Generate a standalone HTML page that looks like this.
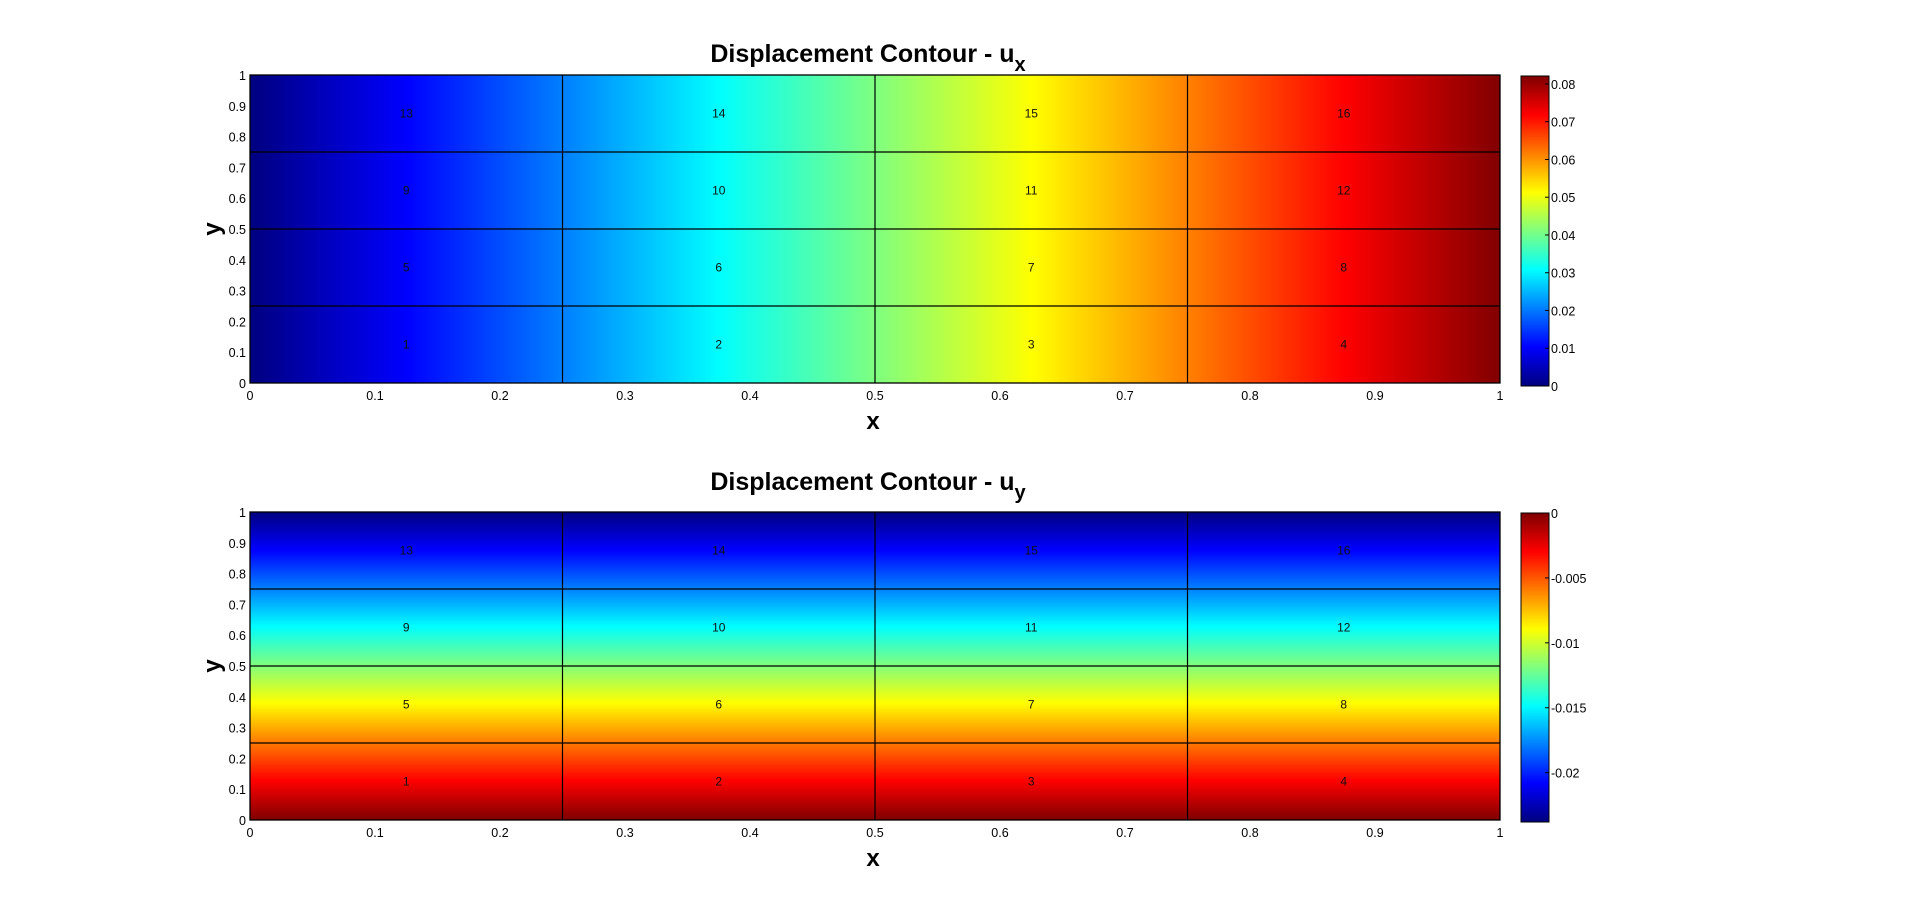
<!DOCTYPE html>
<html><head><meta charset="utf-8">
<style>
body{margin:0;background:#fff;width:1920px;height:921px;overflow:hidden;font-family:"Liberation Sans",sans-serif;}
svg{position:absolute;left:0;top:0}
canvas{position:absolute}
</style></head>
<body>
<canvas id="c1" style="left:250px;top:75px" width="1250" height="308"></canvas>
<canvas id="c2" style="left:250px;top:512px" width="1250" height="308"></canvas>
<canvas id="cb1" style="left:1521px;top:76px" width="28" height="310"></canvas>
<canvas id="cb2" style="left:1521px;top:513px" width="28" height="309"></canvas>
<svg id="s" width="1920" height="921"></svg>
<script>
const uxRowValues = [0, 0.0205, 0.041, 0.0615, 0.082];
const uyColValues = [0, -0.0058, -0.0118, -0.0178, -0.0238];
const axisTicks = [0,0.1,0.2,0.3,0.4,0.5,0.6,0.7,0.8,0.9,1];
const axisTickLabels = ["0","0.1","0.2","0.3","0.4","0.5","0.6","0.7","0.8","0.9","1"];
const cb1Ticks = [0,0.01,0.02,0.03,0.04,0.05,0.06,0.07,0.08];
const cb1Labels = ["0","0.01","0.02","0.03","0.04","0.05","0.06","0.07","0.08"];
const cb2Ticks = [0,-0.005,-0.01,-0.015,-0.02];
const cb2Labels = ["0","-0.005","-0.01","-0.015","-0.02"];
const elementIds = [1,2,3,4,5,6,7,8,9,10,11,12,13,14,15,16];
const cb1Range = [0, 0.0821];
const cb2Range = [-0.0238, 0];

function jet(t){
  t=Math.max(0,Math.min(1,t));
  const r=Math.max(0,Math.min(1,1.5-Math.abs(4*t-3)));
  const g=Math.max(0,Math.min(1,1.5-Math.abs(4*t-2)));
  const b=Math.max(0,Math.min(1,1.5-Math.abs(4*t-1)));
  return [r*255,g*255,b*255];
}
function interp(arr,u){
  const s=u*4, i=Math.min(3,Math.floor(s)), f=s-i;
  return arr[i]*(1-f)+arr[i+1]*f;
}
function drawField(id, valFn, range){
  const c=document.getElementById(id), ctx=c.getContext('2d');
  const W=c.width,H=c.height, img=ctx.createImageData(W,H);
  for(let py=0;py<H;py++){
    const yv=1-(py+0.5)/H;
    for(let px=0;px<W;px++){
      const xv=(px+0.5)/W;
      const v=valFn(xv,yv);
      const col=jet((v-range[0])/(range[1]-range[0]));
      const k=(py*W+px)*4;
      img.data[k]=col[0];img.data[k+1]=col[1];img.data[k+2]=col[2];img.data[k+3]=255;
    }
  }
  ctx.putImageData(img,0,0);
}
drawField('c1',(x,y)=>interp(uxRowValues,x),cb1Range);
drawField('c2',(x,y)=>interp(uyColValues,y),cb2Range);
function drawBar(id){
  const c=document.getElementById(id),ctx=c.getContext('2d');
  for(let py=0;py<c.height;py++){
    const col=jet(1-(py+0.5)/c.height);
    ctx.fillStyle=`rgb(${col[0]|0},${col[1]|0},${col[2]|0})`;
    ctx.fillRect(0,py,c.width,1);
  }
}
drawBar('cb1');drawBar('cb2');

const svg=document.getElementById('s');
const NS='http://www.w3.org/2000/svg';
function el(tag,attrs,txt){
  const e=document.createElementNS(NS,tag);
  for(const k in attrs)e.setAttribute(k,attrs[k]);
  if(txt!==undefined)e.textContent=txt;
  svg.appendChild(e);return e;
}
function plot(top,bottom,titleSub,titleY,cbTop,cbBottom,cbTicks,cbLabels,cbRange,pfx){
  const L=250,R=1500;
  const sx=v=>L+v*(R-L), sy=v=>bottom-v*(bottom-top);
  for(let i=1;i<4;i++){
    let l=el('line',{x1:sx(i/4),x2:sx(i/4),y1:top,y2:bottom,stroke:'#000','stroke-width':1.2});
    
    
    l=el('line',{x1:L,x2:R,y1:sy(i/4),y2:sy(i/4),stroke:'#000','stroke-width':1.2});
    
    
  }
  const fr=el('rect',{x:L,y:top,width:R-L,height:bottom-top,fill:'none',stroke:'#000','stroke-width':1.3});
  
  
  elementIds.forEach((id,i)=>{
    const cx=(i%4+0.5)/4, cy=(Math.floor(i/4)+0.5)/4;
    const t=el('text',{x:sx(cx),y:sy(cy)+4,'font-size':12,'text-anchor':'middle',fill:'#111'},String(id));
    
    
  });
  axisTicks.forEach((v,i)=>{
    let t=el('text',{x:sx(v),y:bottom+17,'font-size':12.5,'text-anchor':'middle'},axisTickLabels[i]);
    
    
    t=el('text',{x:L-4,y:sy(v)+5,'font-size':12.5,'text-anchor':'end'},axisTickLabels[i]);
    
    
  });
  let t=el('text',{x:873,y:bottom+46,'font-size':24,'font-weight':'bold','text-anchor':'middle'},'x');
  
  
  t=el('text',{x:0,y:0,'font-size':24,'font-weight':'bold','text-anchor':'middle',transform:`translate(220,${(top+bottom)/2}) rotate(-90)`},'y');
  
  
  t=el('text',{x:868,y:titleY,'font-size':25,'font-weight':'bold','text-anchor':'middle'});
  t.innerHTML='Displacement Contour - u<tspan dy="9" font-size="20">'+titleSub+'</tspan>';
  
  
  const cr=el('rect',{x:1521,y:cbTop,width:28,height:cbBottom-cbTop,fill:'none',stroke:'#000','stroke-width':1});
  
  
  const cy=v=>cbBottom-(v-cbRange[0])/(cbRange[1]-cbRange[0])*(cbBottom-cbTop);
  cbTicks.forEach((v,i)=>{
    const y=cy(v);
    let l=el('line',{x1:1545,x2:1549,y1:y,y2:y,stroke:'#000'});
    
    
    const tt=el('text',{x:1551,y:y+5,'font-size':12.5},cbLabels[i]);
    
    
  });
}
plot(75,383,'x',62,76,386,cb1Ticks,cb1Labels,cb1Range,'ux');
plot(512,820,'y',490,513,822,cb2Ticks,cb2Labels,cb2Range,'uy');
</script>
</body></html>
